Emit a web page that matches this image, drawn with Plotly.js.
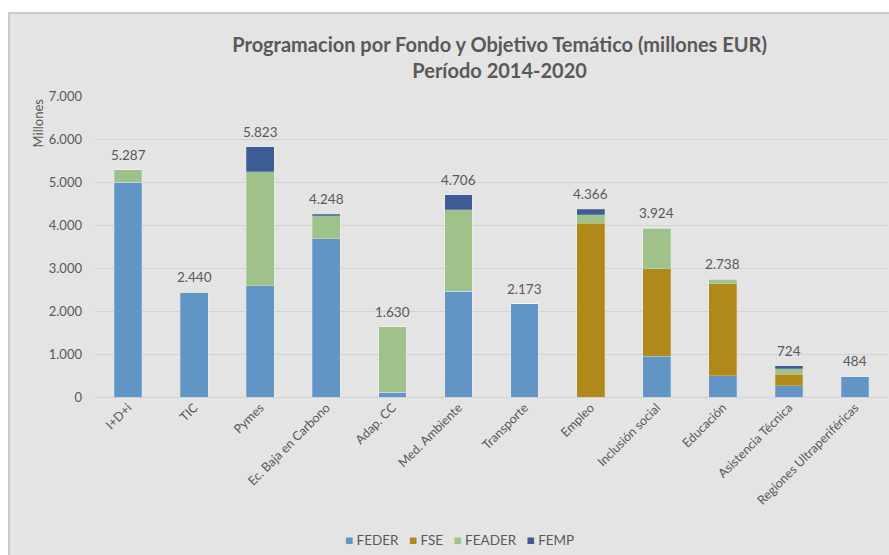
<!DOCTYPE html>
<html>
<head>
<meta charset="utf-8">
<script src="https://cdn.plot.ly/plotly-3.0.1.min.js"></script>
<style>
  html, body { margin: 0; padding: 0; background: #ffffff; width: 889px; height: 555px; overflow: hidden; }
  #frame { position: absolute; left: 8px; top: 12px; width: 881px; height: 543px;
           background: #E4E4E4; border-left: 2px solid #C9C9C9; border-top: 2px solid #C9C9C9; box-sizing: border-box; }
  #chart { position: absolute; left: 0; top: 0; width: 879px; height: 541px; }
</style>
</head>
<body>
<div id="frame"><div id="chart"></div></div>
<script>
const categories = ["I+D+i", "TIC", "Pymes", "Ec. Baja en Carbono", "Adap. CC", "Med. Ambiente",
  "Transporte", "Empleo", "Inclusión social", "Educación", "Asistencia Técnica", "Regiones Ultraperiféricas"];
const feder  = [5000, 2425, 2590, 3682, 116, 2465, 2173,    0,  953,  496, 264, 484];
const fse    = [   0,    0,    0,    0,   0,    0,    0, 4040, 2024, 2140, 263,   0];
const feader = [ 287,   15, 2643,  535, 1514, 1884,   0,  200,  947,  102, 132,   0];
const femp   = [   0,    0,  590,   31,   0,  357,    0,  126,    0,    0,  65,   0];
const totals = [5287, 2440, 5823, 4248, 1630, 4706, 2173, 4366, 3924, 2738, 724, 484];
const yTicks = [0, 1000, 2000, 3000, 4000, 5000, 6000, 7000];
const seriesNames = ['FEDER', 'FSE', 'FEADER', 'FEMP'];
const seriesColors = ['#6095C6', '#B0891A', '#9FC18A', '#3D5B95'];

const txt = '#595959';
const fnt = 'Lato, "Open Sans", sans-serif';

function fmt(v) { return String(v).replace(/\B(?=(\d{3})+(?!\d))/g, '.'); }

const seriesVals = [feder, fse, feader, femp];
const traces = seriesNames.map((n, i) => ({
  type: 'bar', name: n, x: categories, y: seriesVals[i],
  marker: { color: seriesColors[i], line: { color: 'rgba(255,255,255,0.35)', width: 0.6 } },
  showlegend: false
}));

const labelAnns = categories.map((c, i) => ({
  x: c, y: totals[i], xref: 'x', yref: 'y', text: fmt(totals[i]), showarrow: false,
  xanchor: 'center', yanchor: 'bottom', yshift: 5,
  font: { family: fnt, size: 13.5, color: txt }
}));

const sp = '\u00A0';
const legendText = seriesNames.map((n, i) =>
  '<span style="color:' + seriesColors[i] + '">■</span>' + sp + n).join(sp + sp + sp);

const layout = {
  width: 879, height: 541,
  margin: { l: 85, r: 1, t: 82, b: 158 },
  paper_bgcolor: 'rgba(0,0,0,0)', plot_bgcolor: 'rgba(0,0,0,0)',
  separators: ',.',
  barmode: 'stack', bargap: 0.58,
  font: { family: fnt, color: txt, size: 13 },
  showlegend: false,
  title: { text: 'Programacion por Fondo y Objetivo Temático (millones EUR)<br>Período 2014-2020',
    font: { family: fnt, size: 20, color: txt, weight: 'bold' },
    xref: 'container', x: 0.557, xanchor: 'center', yref: 'container', y: 0.93, yanchor: 'top' },
  xaxis: { type: 'category', tickangle: -45, showgrid: false, showline: false, zeroline: false,
    tickfont: { family: fnt, size: 12.5, color: txt }, ticks: '', fixedrange: true },
  yaxis: { range: [0, 7000], tickvals: yTicks, tickformat: ',.0f', showgrid: true, gridcolor: '#D2D2D2',
    gridwidth: 1, zeroline: true, zerolinecolor: '#D2D2D2', zerolinewidth: 1, showline: false,
    ticks: '', ticklabelstandoff: 12, tickfont: { family: fnt, size: 13, color: txt }, fixedrange: true },
  annotations: labelAnns.concat([
    { text: 'Millones', xref: 'paper', yref: 'paper', x: -0.072, y: 1.0, xanchor: 'center', yanchor: 'top',
      textangle: -90, showarrow: false, font: { family: fnt, size: 13, color: txt } },
    { text: legendText, xref: 'paper', yref: 'paper', x: (459 - 95) / 793, y: -(540 - 397) / 301,
      xanchor: 'center', yanchor: 'middle', showarrow: false, font: { family: fnt, size: 13.5, color: txt } }
  ])
};

Plotly.newPlot('chart', traces, layout, { displayModeBar: false, staticPlot: true });
</script>
</body>
</html>
